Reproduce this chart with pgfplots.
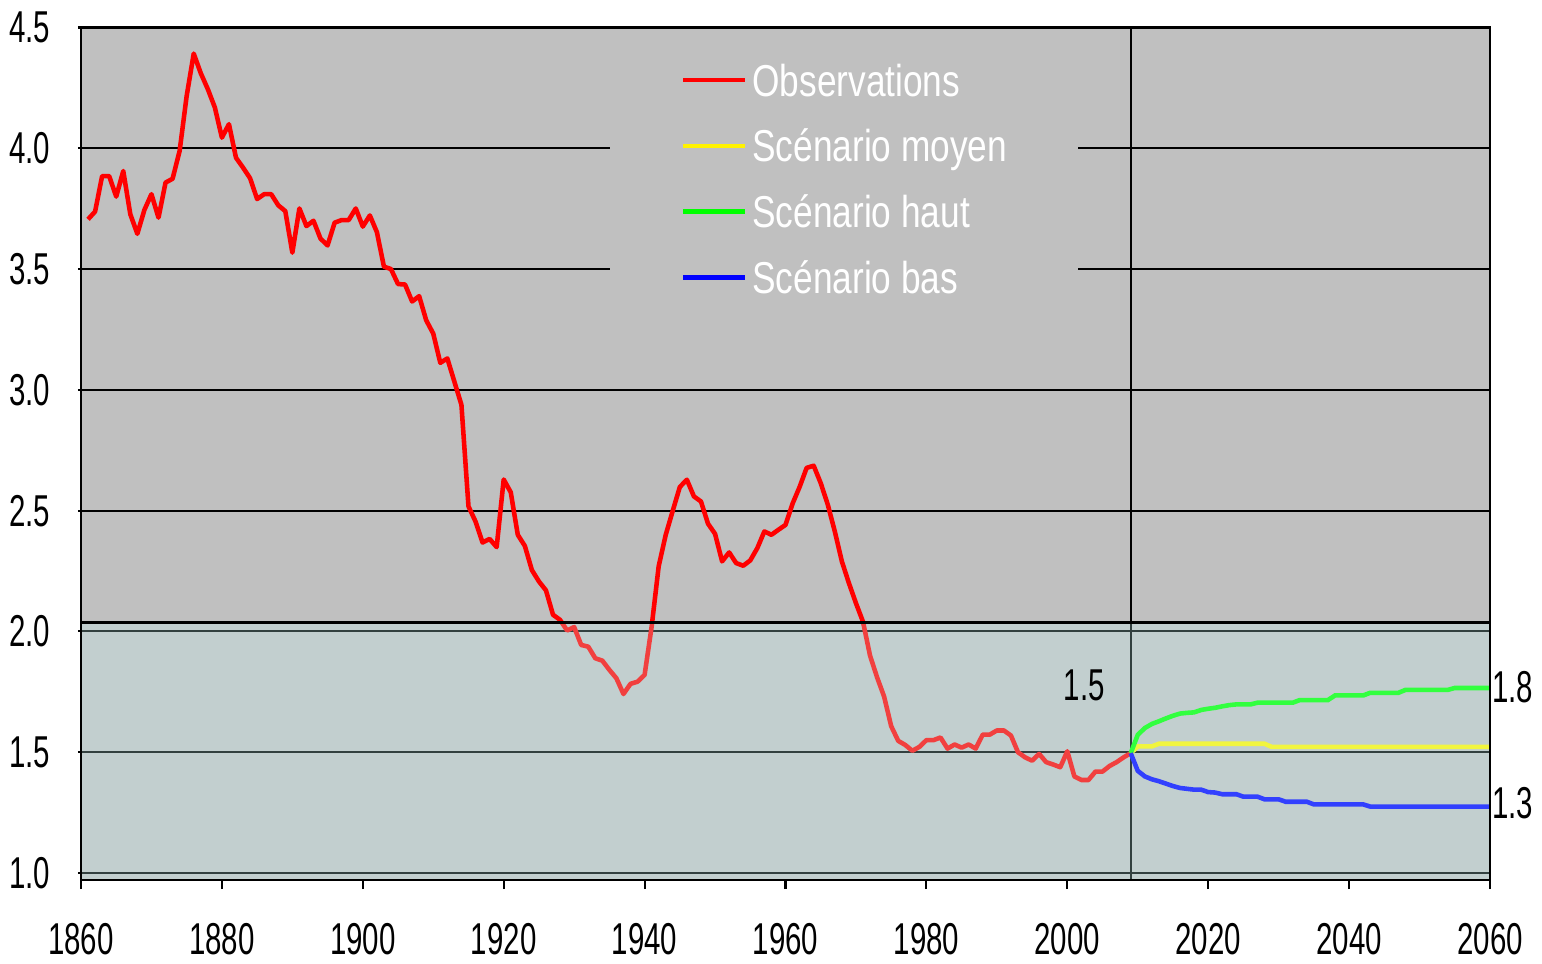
\documentclass[border=0pt]{standalone}
\usepackage{fontspec}
\setmainfont{Liberation Sans}[FakeStretch=0.79]
\newfontfamily\numfont{Liberation Sans}[FakeStretch=0.66]
\usepackage{pgfplots}
\pgfplotsset{compat=1.18}
\definecolor{bggray}{RGB}{192,192,192}
\definecolor{veil}{RGB}{200,255,252}
\newcommand{\lab}{\numfont\fontsize{12.7}{14}\selectfont}

\begin{document}
\begin{tikzpicture}
\begin{axis}[
  scale only axis, width=140.9mm, height=85.25mm,
  xmin=1860, xmax=2060, ymin=0.971, ymax=4.5,
  xtick={1860,1880,...,2060}, ytick={1,1.5,...,4.5},
  /pgf/number format/assume math mode=true,
  tick label style={font=\lab},
  xticklabel style={/pgf/number format/set thousands separator={}, inner sep=0pt, yshift=-2.8mm},
  yticklabel style={/pgf/number format/.cd, fixed, fixed zerofill, precision=1, /tikz/.cd, inner sep=0pt, xshift=-1.5mm},
  tick pos=left, tick align=outside,
  xtick style={black, line width=0.6pt, /pgfplots/major tick length=0.9mm},
  ytick style={black, line width=0.6pt, /pgfplots/major tick length=0.3mm},
  ymajorgrids, grid style={black, line width=0.6pt},
  axis line style={black, line width=0.6pt},
  axis background/.style={fill=bggray},
  clip=false,
  legend cell align=left,
  legend style={at={(0.4252,0.959)}, anchor=north west, draw=none, fill=none,
    inner sep=0pt, row sep=2.37mm, text=white, font=\fontsize{12.7}{14}\selectfont,
    nodes={inner sep=0pt, text height=3.3mm, text depth=0.9mm},
    /tikz/every odd column/.append style={column sep=0.5mm}},
  legend image code/.code={\draw[#1, line width=1.3pt] (0mm,0.4mm) -- (6.2mm,0.4mm);},
]
\fill[bggray] (axis cs:1935.1,3.25) rectangle (axis cs:2001.5,4.485);
\draw[black, line width=0.6pt] (axis cs:2009,0.971) -- (axis cs:2009,4.5);

% observations
\addplot[red, line width=1.3pt, line join=round] coordinates {
(1861,3.706) (1862,3.738) (1863,3.885) (1864,3.885) (1865,3.80) (1866,3.906) (1867,3.727) (1868,3.646) (1869,3.745) (1870,3.81)
(1871,3.713) (1872,3.858) (1873,3.874) (1874,3.989) (1875,4.217) (1876,4.392) (1877,4.311) (1878,4.245) (1879,4.169) (1880,4.044)
(1881,4.10) (1882,3.961) (1883,3.92) (1884,3.876) (1885,3.79) (1886,3.81) (1887,3.81) (1888,3.764) (1889,3.74) (1890,3.568)
(1891,3.751) (1892,3.678) (1893,3.70) (1894,3.626) (1895,3.598) (1896,3.692) (1897,3.703) (1898,3.703) (1899,3.751) (1900,3.676)
(1901,3.722) (1902,3.653) (1903,3.51) (1904,3.50) (1905,3.438) (1906,3.436) (1907,3.366) (1908,3.388) (1909,3.288) (1910,3.233)
(1911,3.112) (1912,3.13) (1913,3.034) (1914,2.938) (1915,2.518) (1916,2.455) (1917,2.368) (1918,2.383) (1919,2.349) (1920,2.629)
(1921,2.576) (1922,2.40) (1923,2.354) (1924,2.254) (1925,2.207) (1926,2.17) (1927,2.069) (1928,2.048) (1929,2.004) (1930,2.018)
(1931,1.944) (1932,1.937) (1933,1.889) (1934,1.879) (1935,1.841) (1936,1.806) (1937,1.741) (1938,1.783) (1939,1.792) (1940,1.82)
(1941,2.02) (1942,2.27) (1943,2.40) (1944,2.50) (1945,2.598) (1946,2.628) (1947,2.559) (1948,2.538) (1949,2.446) (1950,2.404)
(1951,2.29) (1952,2.327) (1953,2.283) (1954,2.272) (1955,2.294) (1956,2.345) (1957,2.414) (1958,2.40) (1959,2.421) (1960,2.441)
(1961,2.529) (1962,2.598) (1963,2.677) (1964,2.686) (1965,2.614) (1966,2.525) (1967,2.414) (1968,2.29) (1969,2.20) (1970,2.117)
(1971,2.04) (1972,1.90) (1973,1.81) (1974,1.73) (1975,1.608) (1976,1.547) (1977,1.53) (1978,1.506) (1979,1.522) (1980,1.55)
(1981,1.55) (1982,1.561) (1983,1.515) (1984,1.532) (1985,1.519) (1986,1.532) (1987,1.515) (1988,1.573) (1989,1.573) (1990,1.59)
(1991,1.59) (1992,1.569) (1993,1.50) (1994,1.479) (1995,1.465) (1996,1.493) (1997,1.459) (1998,1.449) (1999,1.438) (2000,1.504)
(2001,1.40) (2002,1.385) (2003,1.385) (2004,1.42) (2005,1.42) (2006,1.443) (2007,1.459) (2008,1.479) (2009,1.496)};
\addlegendentry{Observations}

% scenarios
\addplot[yellow, line width=1.3pt] coordinates {
(2009,1.496) (2010,1.524) (2012,1.524) (2013,1.535) (2028,1.535) (2029,1.522) (2060,1.522)};
\addlegendentry{Scénario moyen}
\addplot[green, line width=1.3pt] coordinates {
(2009,1.496) (2010,1.572) (2011,1.60) (2012,1.617) (2013,1.628) (2014,1.64) (2015,1.651) (2016,1.66) (2017,1.663) (2018,1.665)
(2019,1.675) (2020,1.68) (2021,1.684) (2022,1.69) (2023,1.695) (2024,1.698) (2026,1.698) (2027,1.705) (2032,1.705) (2033,1.716)
(2037,1.716) (2038,1.735) (2042,1.735) (2043,1.746) (2047,1.746) (2048,1.758) (2054,1.758) (2055,1.766) (2060,1.766)};
\addlegendentry{Scénario haut}
\addplot[blue, line width=1.3pt] coordinates {
(2009,1.496) (2010,1.423) (2011,1.40) (2012,1.388) (2013,1.38) (2014,1.37) (2015,1.36) (2016,1.352) (2018,1.345) (2019,1.345)
(2020,1.335) (2021,1.333) (2022,1.326) (2024,1.326) (2025,1.316) (2027,1.316) (2028,1.305) (2030,1.305) (2031,1.295) (2034,1.295)
(2035,1.284) (2042,1.284) (2043,1.275) (2060,1.275)};
\addlegendentry{Scénario bas}

\filldraw[fill=veil, fill opacity=0.25, draw=black, line width=0.6pt] (axis cs:1860,0.971) rectangle (axis cs:2060,2.037);
\node[font=\lab] at (axis cs:2002.4,1.777) {1.5};
\node[font=\lab, anchor=west, inner sep=0pt] at (axis cs:2060.2,1.771) {1.8};
\node[font=\lab, anchor=west, inner sep=0pt] at (axis cs:2060.2,1.29) {1.3};
\end{axis}
\pgfresetboundingbox
\path[use as bounding box] ([xshift=-8.1mm,yshift=-8.3mm]current axis.south west) rectangle ([xshift=5.2mm,yshift=2.75mm]current axis.north east);
\end{tikzpicture}
\end{document}
